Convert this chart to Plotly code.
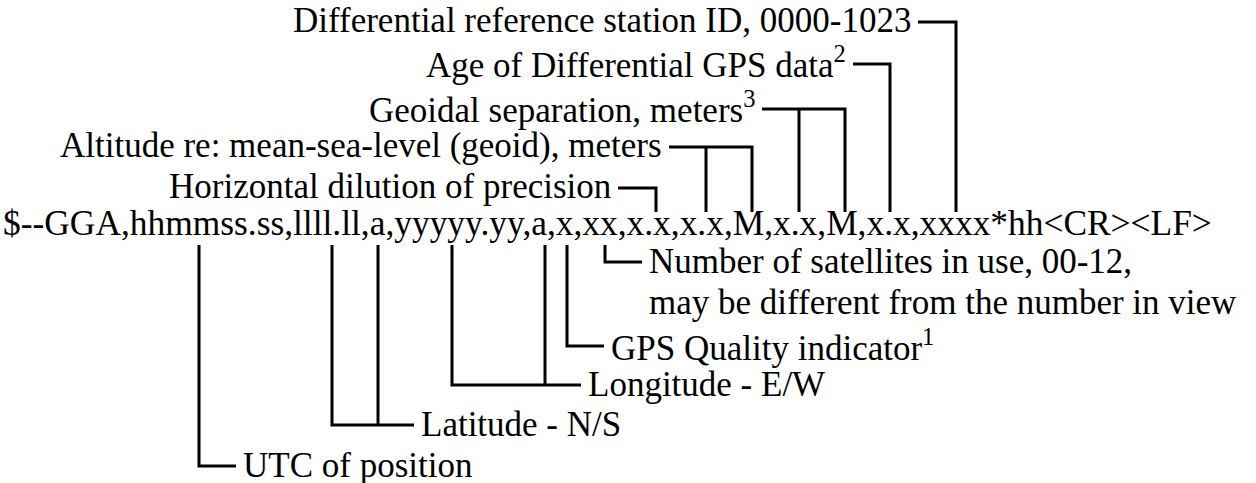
import plotly.graph_objects as go

W, H = 1256, 483

# ---- data -------------------------------------------------------------
SENTENCE = "$--GGA,hhmmss.ss,llll.ll,a,yyyyy.yy,a,x,xx,x.x,x.x,M,x.x,M,x.x,xxxx*hh<CR><LF>"
SENTENCE_X = 2          # left edge of sentence text
SENTENCE_Y = 223        # vertical centre of sentence text
SENTENCE_TOP = 212      # where upper connectors end
SENTENCE_BOTTOM = 245   # where lower connectors start

# labels above the sentence
above_labels = [
    "Differential reference station ID, 0000-1023",
    "Age of Differential GPS data<sup>2</sup>",
    "Geoidal separation, meters<sup>3</sup>",
    "Altitude re: mean-sea-level (geoid), meters",
    "Horizontal dilution of precision",
]
above_field_x = [[956], [890], [799, 845], [706, 752], [656]]
above_level_y = [22, 64, 109, 147, 188]
above_line_start = [918, 853, 762, 669, 618]

# labels below the sentence
below_labels = [
    ["Number of satellites in use, 00-12,", "may be different from the number in view"],
    ["GPS Quality indicator<sup>1</sup>"],
    ["Longitude - E/W"],
    ["Latitude - N/S"],
    ["UTC of position"],
]
below_field_x = [[605], [567], [452, 545], [332, 378], [199]]
below_level_y = [262, 346, 385, 425, 466]
below_line_end = [642, 604, 581, 414, 236]

FONT = dict(family="Liberation Serif, Times New Roman, serif", size=35, color="#000000")
SENTENCE_FONT = dict(FONT, size=35.4)
LINE = dict(color="#000000", width=3)
TEXT_GAP = 6
LINE_SPACING = 41

# ---- figure -----------------------------------------------------------
fig = go.Figure()
annotations = []
shapes = []

annotations.append(dict(x=SENTENCE_X, y=SENTENCE_Y, text=SENTENCE, xanchor="left",
                        yanchor="middle", showarrow=False, font=SENTENCE_FONT, borderpad=0))

for label, fx, ly, ls in zip(above_labels, above_field_x, above_level_y, above_line_start):
    annotations.append(dict(x=ls - TEXT_GAP, y=ly - 2, text=label, xanchor="right",
                            yanchor="middle", showarrow=False, font=FONT, borderpad=0))
    xmax = max(fx)
    shapes.append(dict(type="path", path=f"M {ls},{ly} L {xmax},{ly} L {xmax},{SENTENCE_TOP}",
                       line=LINE, xref="x", yref="y"))
    for x in fx:
        if x != xmax:
            shapes.append(dict(type="path", path=f"M {x},{ly} L {x},{SENTENCE_TOP}",
                               line=LINE, xref="x", yref="y"))

for lines, fx, ly, le in zip(below_labels, below_field_x, below_level_y, below_line_end):
    for i, t in enumerate(lines):
        annotations.append(dict(x=le + TEXT_GAP, y=ly - 1 + i * LINE_SPACING, text=t,
                                xanchor="left", yanchor="middle", showarrow=False,
                                font=FONT, borderpad=0))
    xmin = min(fx)
    shapes.append(dict(type="path", path=f"M {xmin},{SENTENCE_BOTTOM} L {xmin},{ly} L {le},{ly}",
                       line=LINE, xref="x", yref="y"))
    for x in fx:
        if x != xmin:
            shapes.append(dict(type="path", path=f"M {x},{SENTENCE_BOTTOM} L {x},{ly}",
                               line=LINE, xref="x", yref="y"))

fig.update_layout(
    width=W, height=H,
    margin=dict(l=0, r=0, t=0, b=0),
    paper_bgcolor="white", plot_bgcolor="white",
    xaxis=dict(range=[0, W], visible=False, fixedrange=True),
    yaxis=dict(range=[H, 0], visible=False, fixedrange=True),
    annotations=annotations, shapes=shapes,
    showlegend=False,
)

fig.write_html(
    "out.html",
    config={"displayModeBar": False},
    post_script="document.body.style.margin='0';document.body.style.overflow='hidden';",
)
